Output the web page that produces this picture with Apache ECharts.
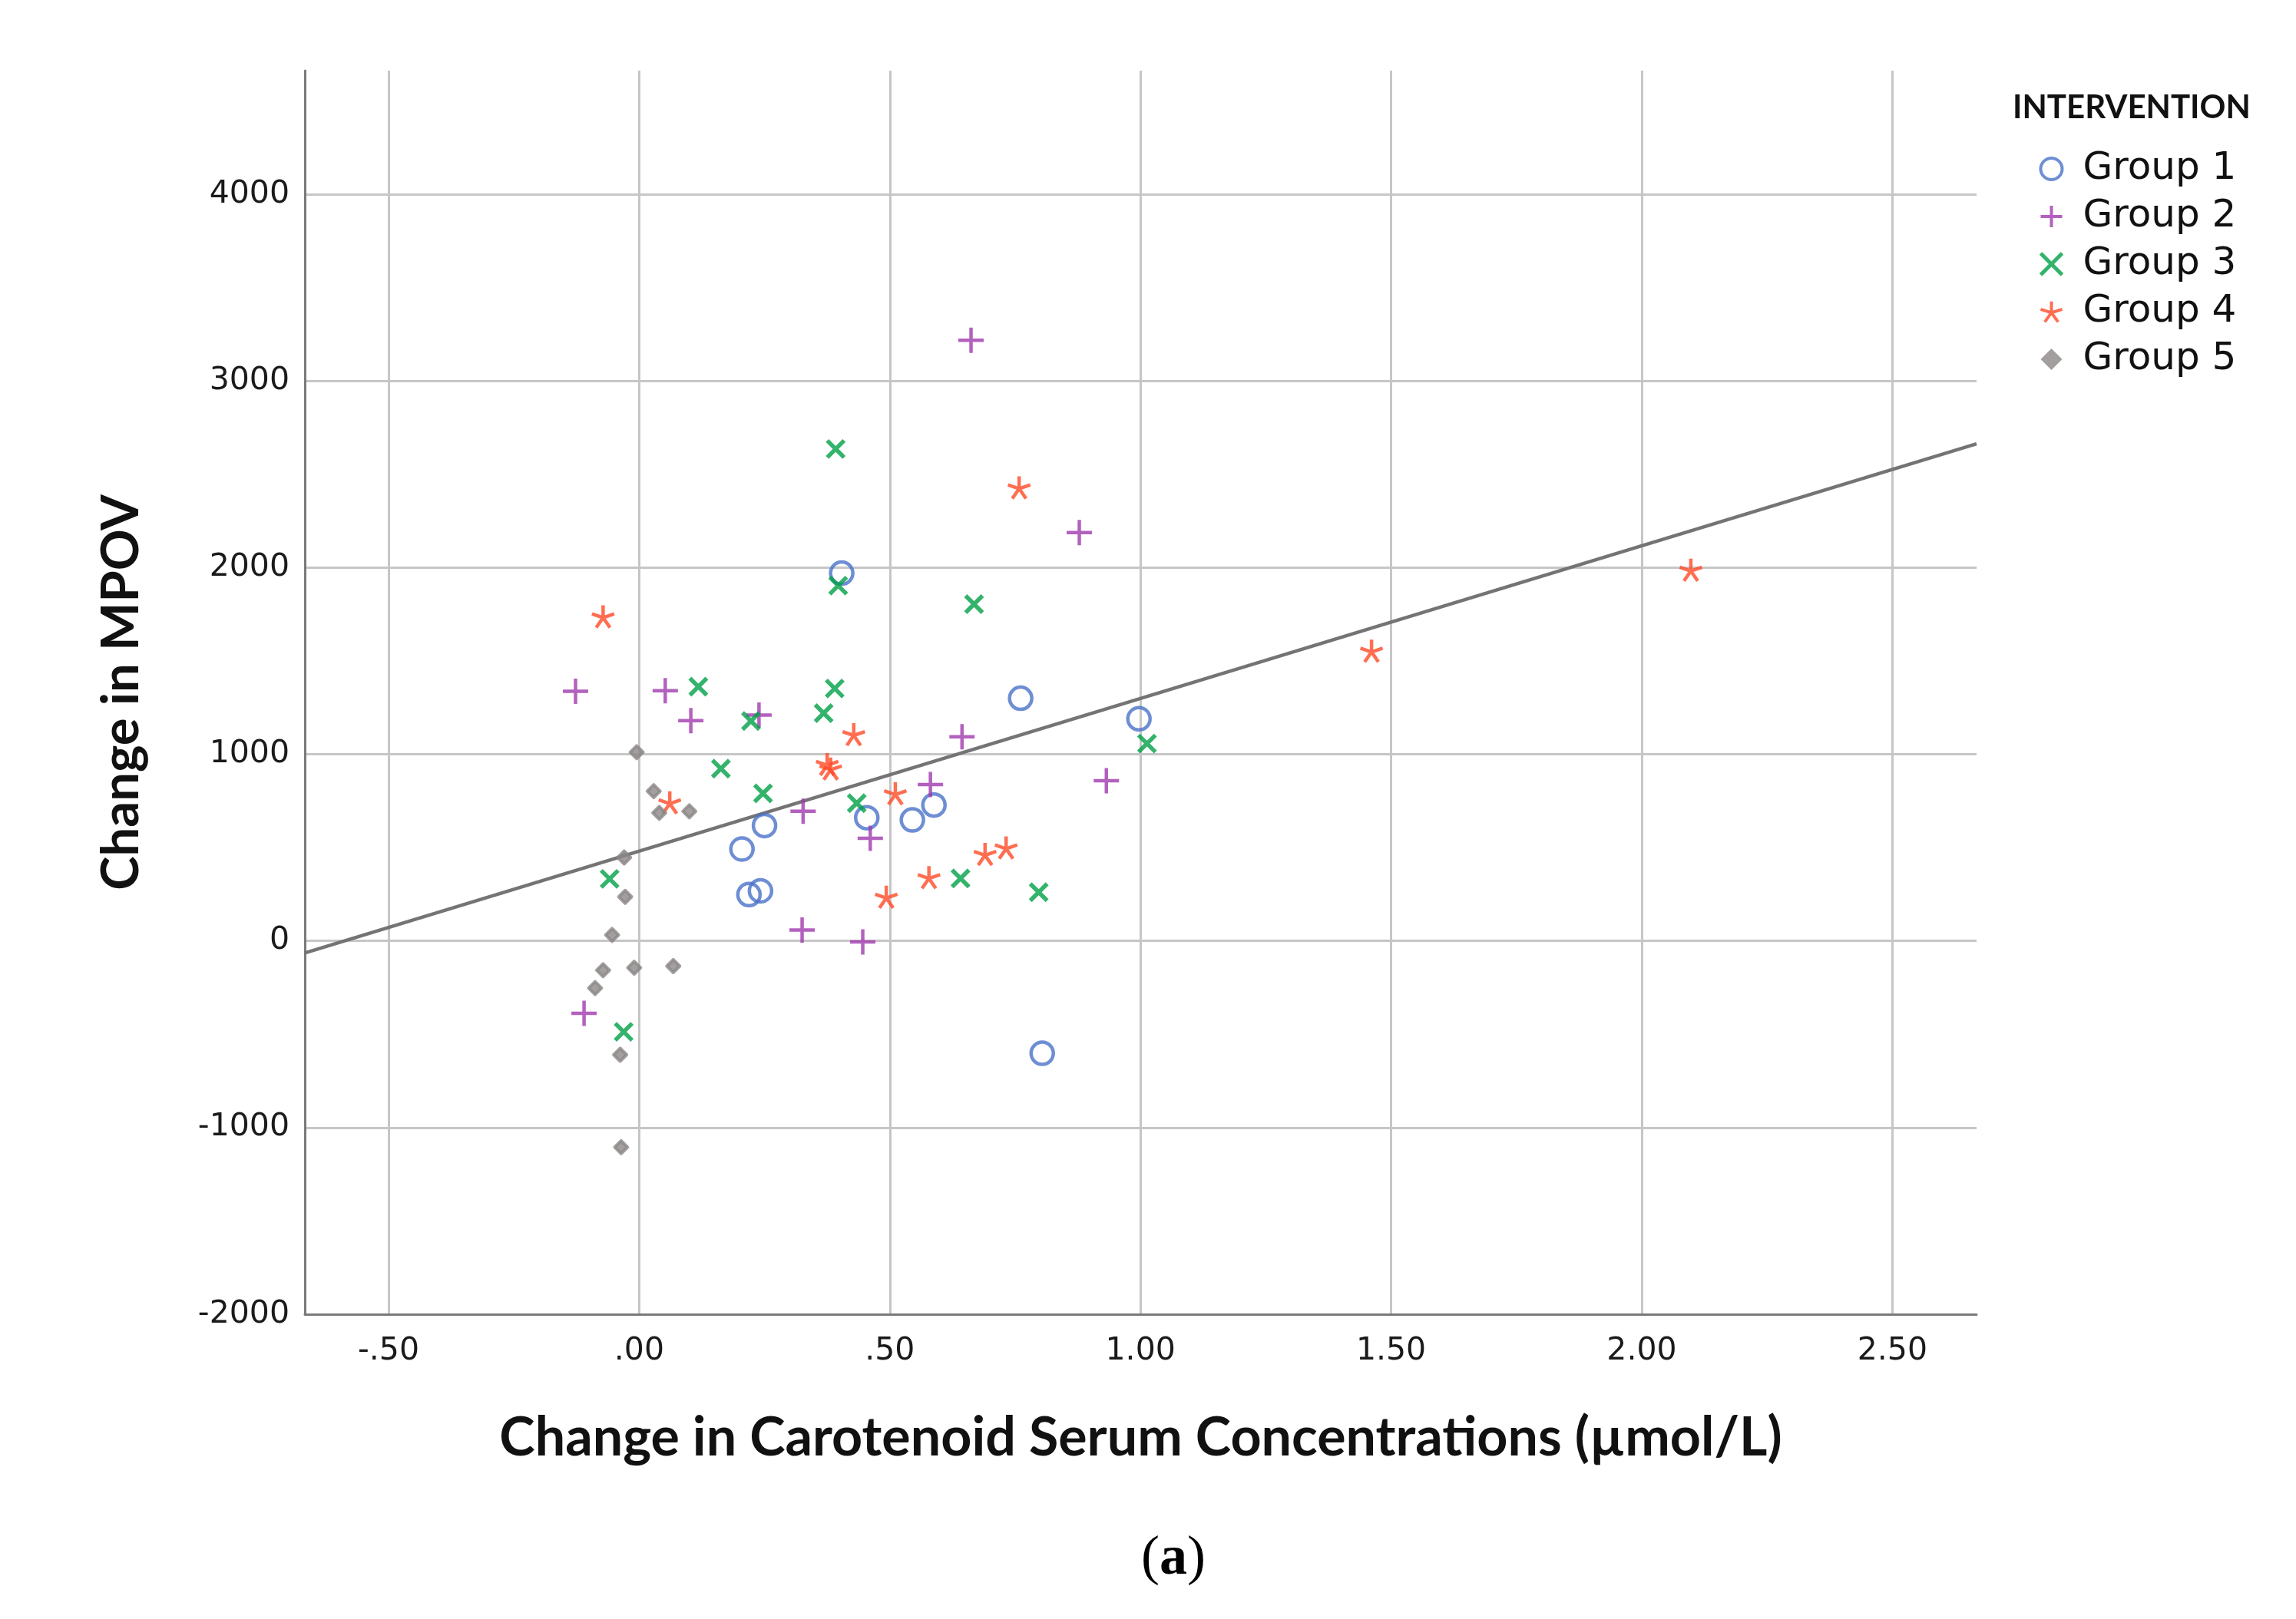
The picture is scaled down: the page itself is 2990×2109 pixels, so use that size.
<!DOCTYPE html>
<html>
<head>
<meta charset="utf-8">
<script src="https://cdn.jsdelivr.net/npm/echarts@6/dist/echarts.min.js"></script>
<style>
  html, body { margin: 0; padding: 0; background: #fff; }
  #chart { width: 2990px; height: 2109px; }
</style>
</head>
<body>
<div id="chart"></div>
<script>
// tick positions
var xTicks = [-0.5, 0, 0.5, 1, 1.5, 2, 2.5];
var yTicks = [-2000, -1000, 0, 1000, 2000, 3000, 4000];

var groupNames = ['Group 1', 'Group 2', 'Group 3', 'Group 4', 'Group 5'];

// [change in carotenoid, change in MPOV]
var group1 = [[0.404, 1970], [0.761, 1300], [0.997, 1190], [0.205, 492], [0.250, 618],
  [0.454, 660], [0.545, 648], [0.588, 728], [0.219, 248], [0.242, 268], [0.804, -602]];
var group2 = [[0.662, 3218], [0.878, 2187], [-0.127, 1337], [0.052, 1340], [0.103, 1180],
  [0.239, 1210], [0.644, 1093], [0.327, 695], [0.581, 838], [0.461, 550], [0.932, 858],
  [0.325, 58], [0.446, -6], [-0.110, -388]];
var group3 = [[0.392, 2635], [0.397, 1903], [0.668, 1804], [0.118, 1362], [0.390, 1352],
  [0.223, 1178], [0.368, 1220], [0.163, 923], [0.247, 790], [0.434, 738], [-0.059, 332],
  [0.641, 335], [0.797, 261], [1.013, 1057], [-0.031, -487]];
var group4 = [[0.758, 2429], [-0.072, 1738], [2.098, 1988], [1.461, 1554], [0.428, 1107],
  [0.375, 947], [0.382, 923], [0.511, 790], [0.061, 742], [0.732, 500], [0.690, 465],
  [0.578, 341], [0.493, 236]];
var group5 = [[-0.005, 1011], [0.029, 802], [0.040, 686], [0.100, 694], [-0.030, 447],
  [-0.028, 236], [-0.054, 32], [-0.072, -157], [-0.010, -144], [0.068, -135],
  [-0.088, -253], [-0.038, -610], [-0.036, -1105]];

// fit line end points
var fitLine = [[-0.667, -65], [2.668, 2663]];

var colors = ['#4a72c9', '#a03aae', '#00a046', '#ff4a26', '#8c8787'];

var plusPath = 'path://M5,0 L5,10 M0,5 L10,5';
var crossPath = 'path://M0,0 L10,10 M10,0 L0,10';
var starPath = 'path://M0,0 L0,-10 M0,0 L9.51,-3.09 M0,0 L5.88,8.09 M0,0 L-5.88,8.09 M0,0 L-9.51,-3.09';

function fmtX(v) {
  var s = Math.abs(v).toFixed(2);
  if (Math.abs(v) < 1) s = s.replace(/^0/, '');
  return (v < 0 ? '-' : '') + s;
}

var chart = echarts.init(document.getElementById('chart'));

var option = {
  animation: false,
  backgroundColor: '#fff',
  title: [
    {
      text: 'INTERVENTION',
      left: 2616,
      top: 114,
      textStyle: { fontFamily: 'Lato', fontWeight: 'bold', fontSize: 42, color: '#111' }
    },
    {
      text: '({b|a})',
      left: 1481,
      top: 1990,
      textStyle: {
        fontFamily: 'Liberation Serif', fontWeight: 'normal', fontSize: 72, color: '#000',
        rich: { b: { fontFamily: 'Liberation Serif', fontWeight: 'bold', fontSize: 72, color: '#000' } }
      }
    }
  ],
  legend: {
    data: [
      { name: groupNames[0], itemStyle: { borderWidth: 4 } },
      { name: groupNames[1], itemStyle: { borderWidth: 4 } },
      { name: groupNames[2], itemStyle: { borderWidth: 5 } },
      { name: groupNames[3], itemStyle: { borderWidth: 4 } },
      { name: groupNames[4], itemStyle: { borderWidth: 0 } }
    ],
    orient: 'vertical',
    left: 2650,
    top: 190,
    itemWidth: 28,
    itemHeight: 28,
    itemGap: 12,
    textStyle: { fontFamily: 'DejaVu Sans', fontSize: 50, lineHeight: 50, color: '#111', padding: [0, 0, 0, 22] }
  },
  grid: { left: 397, right: 416, top: 92, bottom: 397 },
  xAxis: {
    type: 'value',
    min: -0.667,
    max: 2.668,
    name: 'Change in Carotenoid Serum Concentrations (µmol/L)',
    nameLocation: 'middle',
    nameGap: 126,
    nameTextStyle: { fontFamily: 'Lato', fontWeight: 'bold', fontSize: 70, color: '#111' },
    axisLine: { onZero: false, lineStyle: { color: '#7a7a7a', width: 3 } },
    axisTick: { show: false, customValues: xTicks },
    axisLabel: {
      customValues: xTicks,
      formatter: fmtX,
      margin: 28,
      fontFamily: 'DejaVu Sans', fontSize: 41, color: '#1a1a1a'
    },
    splitLine: { show: true, lineStyle: { color: '#c6c6c6', width: 3 } }
  },
  yAxis: {
    type: 'value',
    min: -2000,
    max: 4662,
    name: 'Change in MPOV',
    nameLocation: 'middle',
    nameGap: 205,
    nameTextStyle: { fontFamily: 'Lato', fontWeight: 'bold', fontSize: 67, color: '#111' },
    axisLine: { show: true, onZero: false, lineStyle: { color: '#7a7a7a', width: 3 } },
    axisTick: { show: false, customValues: yTicks },
    axisLabel: {
      customValues: yTicks,
      formatter: function (v) { return String(v); },
      margin: 20,
      fontFamily: 'DejaVu Sans', fontSize: 41, color: '#1a1a1a'
    },
    splitLine: { show: true, lineStyle: { color: '#c6c6c6', width: 3 } }
  },
  series: [
    {
      type: 'line',
      data: fitLine,
      symbol: 'none',
      silent: true,
      z: 1,
      lineStyle: { color: '#747474', width: 4.5 }
    },
    {
      name: groupNames[0], type: 'scatter', data: group1,
      symbol: 'circle', symbolSize: 29,
      itemStyle: { color: 'rgba(0,0,0,0)', borderColor: colors[0], borderWidth: 4.5 }
    },
    {
      name: groupNames[1], type: 'scatter', data: group2,
      symbol: plusPath, symbolSize: 33,
      itemStyle: { color: 'rgba(0,0,0,0)', borderColor: colors[1], borderWidth: 4.5 }
    },
    {
      name: groupNames[2], type: 'scatter', data: group3,
      symbol: crossPath, symbolSize: 22,
      itemStyle: { color: 'rgba(0,0,0,0)', borderColor: colors[2], borderWidth: 5.5 }
    },
    {
      name: groupNames[3], type: 'scatter', data: group4,
      symbol: starPath, symbolSize: 29,
      itemStyle: { color: 'rgba(0,0,0,0)', borderColor: colors[3], borderWidth: 4.5 }
    },
    {
      name: groupNames[4], type: 'scatter', data: group5,
      symbol: 'diamond', symbolSize: 17,
      itemStyle: { color: colors[4], borderColor: colors[4], borderWidth: 4, borderJoin: 'round' }
    }
  ]
};

chart.setOption(option);
</script>
</body>
</html>
